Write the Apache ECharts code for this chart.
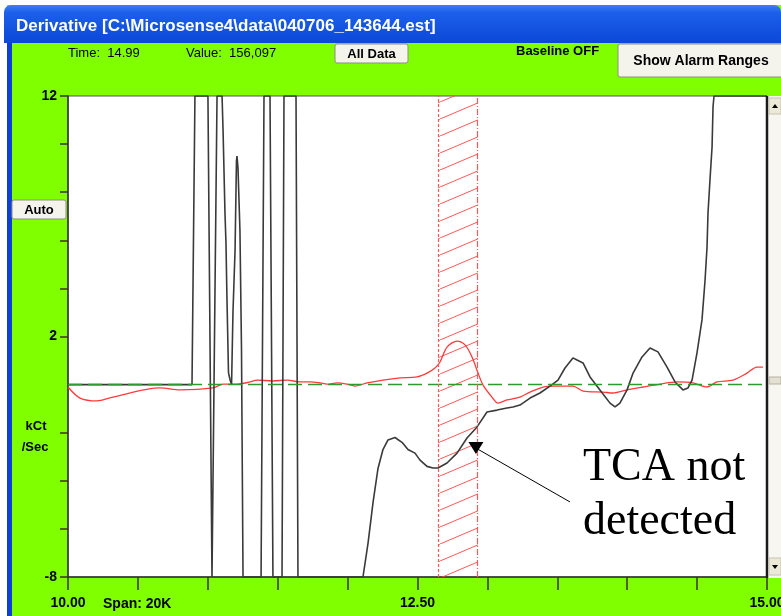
<!DOCTYPE html>
<html>
<head>
<meta charset="utf-8">
<title>Derivative</title>
<script src="https://cdn.jsdelivr.net/npm/echarts@6/dist/echarts.min.js"></script>
<style>
  html, body { margin: 0; padding: 0; background: #fff; }
  #chart { width: 781px; height: 616px; }
</style>
</head>
<body>
<div id="chart"></div>
<script>
// derivative trace (black), time in min, rate in kCt/Sec (clipped at 12 / -8 like the instrument)
const timeBlack = [10.0, 10.887, 10.908, 11.001, 11.030, 11.044, 11.066, 11.102, 11.109, 11.123, 11.130, 11.137, 11.148, 11.159, 11.170, 11.180, 11.195, 11.205, 11.209, 11.216, 11.230, 11.241, 11.252, 11.381, 11.402, 11.445, 11.466, 11.531, 11.545, 11.631, 11.645, 12.110, 12.146, 12.182, 12.217, 12.253, 12.289, 12.339, 12.389, 12.432, 12.482, 12.518, 12.568, 12.611, 12.647, 12.711, 12.783, 12.854, 12.926, 12.997, 13.069, 13.140, 13.183, 13.233, 13.305, 13.376, 13.448, 13.505, 13.555, 13.612, 13.641, 13.684, 13.734, 13.805, 13.877, 13.913, 13.948, 13.999, 14.042, 14.106, 14.163, 14.220, 14.285, 14.342, 14.399, 14.435, 14.464, 14.499, 14.535, 14.557, 14.571, 14.578, 14.592, 14.607, 14.614, 14.621, 15.0];
const rateBlack = [0, 0, 12, 12, -8, -8, 12, 12, 10.6, 7.1, 5.9, 3.6, 0.5, 0.2, 0.0, 3.0, 5.6, 9.3, 9.5, 9.0, 6.4, 1.5, -8, -8, 12, 12, -8, -8, 12, 12, -8, -8, -6.6, -4.9, -3.5, -2.7, -2.3, -2.2, -2.4, -2.7, -2.85, -3.14, -3.4, -3.47, -3.47, -3.26, -2.85, -2.22, -1.76, -1.14, -1.06, -0.97, -0.93, -0.85, -0.56, -0.35, -0.06, 0.19, 0.69, 1.11, 1.02, 0.9, 0.32, -0.22, -0.77, -0.93, -0.77, -0.22, 0.48, 1.15, 1.52, 1.36, 0.73, 0.11, -0.22, -0.14, 0.19, 1.31, 2.69, 4.35, 5.72, 7.13, 8.5, 9.88, 11.56, 12, 12];

// red trace
const timeRed = [10.0, 10.086, 10.207, 10.322, 10.658, 10.801, 11.037, 11.109, 11.209, 11.302, 11.352, 11.466, 11.567, 11.660, 11.731, 11.803, 11.853, 11.924, 11.996, 12.053, 12.139, 12.253, 12.375, 12.496, 12.568, 12.625, 12.661, 12.711, 12.783, 12.840, 12.890, 12.933, 12.969, 13.033, 13.076, 13.140, 13.233, 13.305, 13.398, 13.469, 13.569, 13.612, 13.684, 13.827, 13.898, 13.999, 14.113, 14.235, 14.356, 14.471, 14.571, 14.642, 14.757, 14.857, 14.928, 14.971];
const rateRed = [-0.10, -0.56, -0.68, -0.52, -0.14, -0.22, -0.14, 0.02, 0.02, 0.11, 0.19, 0.15, 0.19, 0.11, 0.11, 0.07, 0.02, 0.07, 0.02, -0.06, 0.07, 0.19, 0.28, 0.32, 0.48, 0.69, 0.94, 1.56, 1.81, 1.65, 1.15, 0.48, -0.02, -0.52, -0.77, -0.64, -0.52, -0.31, -0.10, -0.06, -0.06, -0.06, -0.27, -0.31, -0.35, -0.22, -0.10, 0.02, 0.11, 0.07, -0.10, 0.11, 0.19, 0.48, 0.73, 0.73];

// axis labels / ticks
const xLabels = [10, 12.5, 15];
const yLabels = [-8, 2, 12];
const yTicks = [-8, -6, -4, -2, 2, 4, 6, 8, 10, 12];

// alarm window (hatched) and the arrow into it
const alarmWindow = [12.647, 12.933];
const arrowFrom = [13.591, -4.88];
const arrowTo = [12.918, -2.64];

const zip = (a, b) => a.map((v, i) => [v, b[i]]);

// hatch pattern for the alarm window
const hatch = document.createElement('canvas');
hatch.width = 40;
hatch.height = 17;
const hctx = hatch.getContext('2d');
hctx.strokeStyle = 'rgba(255,70,70,0.9)';
hctx.lineWidth = 1;
hctx.beginPath();
hctx.moveTo(0, 17);
hctx.lineTo(40, 0);
hctx.stroke();

const txt = (x, y, text, opt) => ({
    type: 'text', x: x, y: y, z: 10,
    style: Object.assign({
        text: text, fill: '#000', fontSize: 13,
        fontFamily: 'Liberation Sans, Arial, sans-serif',
        verticalAlign: 'middle'
    }, opt || {})
});

const button = (x, y, w, h) => ({
    type: 'rect', z: 9,
    shape: { x: x, y: y, width: w, height: h, r: 2 },
    style: { fill: '#f4f3ec', stroke: '#8f8d82', lineWidth: 1 }
});

const chart = echarts.init(document.getElementById('chart'));

const option = {
    animation: false,
    backgroundColor: '#80ff00',
    grid: {
        left: 68, right: 14, top: 96, bottom: 39,
        outerBoundsMode: 'none',
        containLabel: false,
        show: true,
        backgroundColor: '#fff',
        borderColor: '#555',
        borderWidth: 1
    },
    xAxis: {
        type: 'value',
        min: 10, max: 15, interval: 0.5,
        axisLine: { show: true, onZero: false, lineStyle: { color: '#333', width: 1.5 } },
        axisTick: { show: true, length: 13, lineStyle: { color: '#333', width: 1.5 } },
        splitLine: { show: false },
        axisLabel: {
            customValues: xLabels,
            formatter: v => v.toFixed(2),
            margin: 19,
            color: '#000',
            fontSize: 14,
            fontWeight: 'bold',
            fontFamily: 'Liberation Sans, Arial, sans-serif'
        }
    },
    yAxis: {
        type: 'value',
        min: -8, max: 12, interval: 2,
        axisLine: { show: true, onZero: false, lineStyle: { color: '#333', width: 1.5 } },
        axisTick: { show: true, length: 8, customValues: yTicks, lineStyle: { color: '#333', width: 1.5 } },
        splitLine: { show: false },
        axisLabel: {
            customValues: yLabels,
            margin: 11,
            color: '#000',
            fontSize: 14,
            fontWeight: 'bold',
            fontFamily: 'Liberation Sans, Arial, sans-serif'
        }
    },
    series: [
        {
            name: 'baseline',
            type: 'line',
            data: zip(timeRed, rateRed),
            showSymbol: false,
            smooth: 0.3,
            clip: true,
            z: 3,
            lineStyle: { color: '#ff3a3a', width: 1.3 },
            markArea: {
                silent: true,
                itemStyle: { color: { image: hatch, repeat: 'repeat' }, borderWidth: 0 },
                data: [[{ xAxis: alarmWindow[0] }, { xAxis: alarmWindow[1] }]]
            },
            markLine: {
                silent: true,
                symbol: ['none', 'none'],
                label: { show: false },
                data: [
                    { yAxis: 0, lineStyle: { color: '#2e9a2e', type: [14, 6], width: 1.3 } },
                    { xAxis: alarmWindow[0], lineStyle: { color: '#ff5a5a', type: [3, 2], width: 1.2 } },
                    { xAxis: alarmWindow[1], lineStyle: { color: '#ff5a5a', type: [6, 2, 1, 2], width: 1.2 } }
                ]
            }
        },
        {
            name: 'derivative',
            type: 'line',
            data: zip(timeBlack, rateBlack),
            showSymbol: false,
            clip: true,
            z: 4,
            lineStyle: { color: '#3a3a3a', width: 1.6 },
            markLine: {
                silent: true,
                symbol: ['none', 'triangle'],
                symbolSize: [15, 12],
                symbolRotate: 180,
                label: { show: false },
                itemStyle: { color: '#000' },
                lineStyle: { color: '#000', type: 'solid', width: 1 },
                data: [[{ coord: arrowFrom }, { coord: arrowTo }]]
            }
        }
    ],
    graphic: [
        // window frame
        { type: 'rect', z: 8, shape: { x: 0, y: 0, width: 7, height: 616 }, style: { fill: '#fff' } },
        { type: 'rect', z: 8, shape: { x: 7, y: 38, width: 5, height: 578 }, style: { fill: '#0b3fd6' } },
        { type: 'rect', z: 8, shape: { x: 0, y: 0, width: 781, height: 5 }, style: { fill: '#fff' } },
        {
            type: 'rect', z: 8,
            shape: { x: 4, y: 5, width: 777, height: 38, r: [7, 7, 0, 0] },
            style: {
                fill: new echarts.graphic.LinearGradient(0, 0, 0, 1, [
                    { offset: 0, color: '#3d80f6' },
                    { offset: 0.2, color: '#1c5fe9' },
                    { offset: 1, color: '#0b48d8' }
                ])
            }
        },
        txt(16, 26, 'Derivative [C:\\Microsense4\\data\\040706_143644.est]', { fill: '#fff', fontSize: 17, fontWeight: 'bold' }),

        // top controls
        txt(68, 53, 'Time:  14.99'),
        txt(186, 53, 'Value:  156,097'),
        button(335, 44, 73, 19),
        txt(371.5, 54, 'All Data', { align: 'center', fontWeight: 'bold' }),
        txt(516, 51, 'Baseline OFF', { fontWeight: 'bold' }),
        button(618, 44, 170, 33),
        txt(701, 61, 'Show Alarm Ranges', { align: 'center', fontWeight: 'bold', fontSize: 14 }),

        // left controls
        button(12, 200, 54, 19),
        txt(39, 210, 'Auto', { align: 'center', fontWeight: 'bold' }),
        txt(36, 426, 'kCt', { align: 'center', fontWeight: 'bold' }),
        txt(35, 447, '/Sec', { align: 'center', fontWeight: 'bold' }),
        txt(103, 604, 'Span: 20K', { fontWeight: 'bold', fontSize: 14 }),

        // right border + scrollbar
        { type: 'line', z: 9, shape: { x1: 767, y1: 96, x2: 767, y2: 578 }, style: { stroke: '#1a1a1a', lineWidth: 2.5 } },
        { type: 'rect', z: 8, shape: { x: 768, y: 96, width: 13, height: 482 }, style: { fill: '#f7f6f1' } },
        { type: 'rect', z: 9, shape: { x: 769, y: 98, width: 12, height: 16 }, style: { fill: '#ece9d8', stroke: '#c6c3b4' } },
        { type: 'polygon', z: 10, shape: { points: [[772, 108], [778, 108], [775, 104]] }, style: { fill: '#000' } },
        { type: 'rect', z: 9, shape: { x: 769, y: 377, width: 12, height: 7 }, style: { fill: '#e4e1d2', stroke: '#b4b1a2' } },
        { type: 'rect', z: 9, shape: { x: 769, y: 558, width: 12, height: 17 }, style: { fill: '#ece9d8', stroke: '#c6c3b4' } },
        { type: 'polygon', z: 10, shape: { points: [[772, 565], [778, 565], [775, 569]] }, style: { fill: '#000' } },

        // annotation
        txt(583, 468, 'TCA not', { fontSize: 46, fontFamily: 'Liberation Serif, Times New Roman, serif' }),
        txt(583, 522, 'detected', { fontSize: 46, fontFamily: 'Liberation Serif, Times New Roman, serif' })
    ]
};

chart.setOption(option);
</script>
</body>
</html>
